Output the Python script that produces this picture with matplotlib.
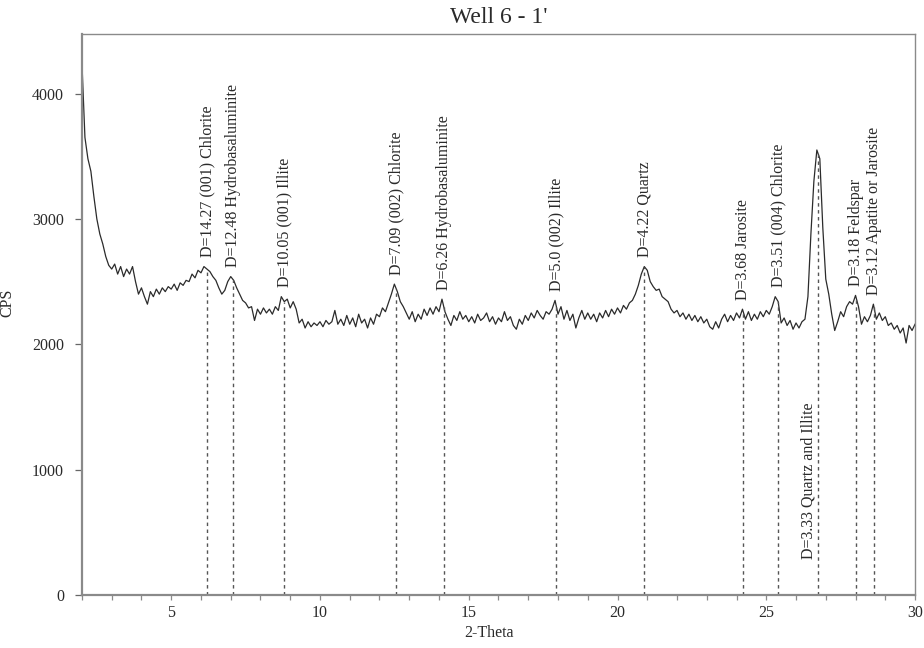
import numpy as np
import matplotlib
matplotlib.use("Agg")
import matplotlib.pyplot as plt
from matplotlib.ticker import MultipleLocator

plt.rcParams['font.family'] = ['Liberation Serif', 'DejaVu Serif']

# ---- data ----
two_theta = np.round(np.arange(2.0, 30.001, 0.1), 1)
cps = [
    4240, 3650, 3480, 3380, 3180, 3000, 2880, 2800, 2700, 2630,   # 2.x
    2600, 2640, 2560, 2620, 2540, 2600, 2560, 2620, 2500, 2400,   # 3.x
    2450, 2380, 2320, 2420, 2380, 2440, 2400, 2450, 2420, 2460,   # 4.x
    2440, 2480, 2430, 2490, 2470, 2510, 2500, 2560, 2530, 2590,   # 5.x
    2570, 2620, 2600, 2580, 2540, 2510, 2450, 2400, 2430, 2500,   # 6.x
    2540, 2510, 2450, 2400, 2350, 2330, 2290, 2300, 2190, 2280,   # 7.x
    2240, 2290, 2250, 2280, 2240, 2300, 2270, 2380, 2340, 2360,   # 8.x
    2290, 2340, 2280, 2170, 2200, 2130, 2180, 2140, 2170, 2150,   # 9.x
    2180, 2140, 2190, 2160, 2180, 2270, 2160, 2200, 2150, 2230,   # 10.x
    2160, 2210, 2140, 2240, 2170, 2200, 2130, 2210, 2160, 2240,   # 11.x
    2220, 2290, 2260, 2330, 2400, 2480, 2420, 2340, 2300, 2250,   # 12.x
    2200, 2260, 2180, 2240, 2200, 2280, 2230, 2290, 2240, 2300,   # 13.x
    2260, 2360, 2260, 2200, 2150, 2230, 2190, 2260, 2200, 2230,   # 14.x
    2180, 2220, 2170, 2240, 2190, 2210, 2250, 2180, 2220, 2160,   # 15.x
    2210, 2180, 2260, 2190, 2220, 2150, 2120, 2200, 2160, 2230,   # 16.x
    2190, 2250, 2210, 2270, 2230, 2200, 2260, 2240, 2280, 2350,   # 17.x
    2240, 2300, 2200, 2270, 2190, 2240, 2130, 2210, 2270, 2200,   # 18.x
    2250, 2200, 2240, 2180, 2250, 2210, 2270, 2220, 2280, 2240,   # 19.x
    2290, 2250, 2310, 2280, 2330, 2350, 2400, 2470, 2560, 2620,   # 20.x
    2590, 2500, 2460, 2430, 2440, 2380, 2360, 2340, 2280, 2250,   # 21.x
    2270, 2220, 2250, 2200, 2240, 2190, 2230, 2180, 2220, 2170,   # 22.x
    2200, 2140, 2120, 2180, 2130, 2200, 2240, 2180, 2230, 2190,   # 23.x
    2250, 2210, 2280, 2200, 2260, 2190, 2240, 2200, 2260, 2220,   # 24.x
    2270, 2240, 2300, 2380, 2340, 2170, 2210, 2150, 2190, 2120,   # 25.x
    2170, 2130, 2180, 2200, 2380, 2880, 3300, 3550, 3480, 2930,   # 26.x
    2520, 2400, 2240, 2110, 2180, 2260, 2220, 2300, 2340, 2320,   # 27.x
    2390, 2300, 2160, 2220, 2180, 2230, 2320, 2200, 2250, 2190,   # 28.x
    2220, 2150, 2170, 2120, 2150, 2090, 2130, 2010, 2150, 2110,   # 29.x
    2160,                                                         # 30.0
]

peak_pos = [6.2, 7.08, 8.8, 12.57, 14.16, 17.93, 20.9, 24.22, 25.4, 26.75, 28.03, 28.62]
peak_labels = [
    "D=14.27 (001) Chlorite",
    "D=12.48 Hydrobasaluminite",
    "D=10.05 (001) Illite",
    "D=7.09 (002) Chlorite",
    "D=6.26 Hydrobasaluminite",
    "D=5.0 (002) Illite",
    "D=4.22 Quartz",
    "D=3.68 Jarosite",
    "D=3.51 (004) Chlorite",
    "D=3.33 Quartz and Illite",
    "D=3.18 Feldspar",
    "D=3.12 Apatite or Jarosite",
]

x_ticks = [5, 10, 15, 20, 25, 30]
y_ticks = [0, 1000, 2000, 3000, 4000]

# ---- figure ----
fig = plt.figure(figsize=(9.24, 6.48), dpi=100)
ax = fig.add_axes([0.0887, 0.0818, 0.9016, 0.8657])

x = np.asarray(two_theta)
y = np.asarray(cps, dtype=float)

ax.plot(x, y, color='#2b2b2b', lw=0.9)

txt_color = '#2a2a2a'
fs = 11.5
for i, (p, lab) in enumerate(zip(peak_pos, peak_labels)):
    top = np.interp(p, x, y)
    ax.plot([p, p], [0, top], color='#555555', lw=1.0, ls=(0, (2.5, 2.5)))
    if lab.startswith("D=3.33"):
        ax.text(p - 0.34, 290, lab, rotation=90, ha='center', va='bottom',
                fontsize=fs, color=txt_color)
    else:
        local = np.interp(np.linspace(p - 0.15, p + 0.15, 31), x, y).max()
        ax.text(p, local + 75, lab, rotation=90, ha='center', va='bottom',
                fontsize=fs, color=txt_color)

ax.set_xlim(2, 30)
ax.set_ylim(0, 4475)
ax.set_xticks(x_ticks)
ax.set_yticks(y_ticks)
ax.xaxis.set_minor_locator(MultipleLocator(1))

for s in ['left', 'bottom']:
    ax.spines[s].set_color('#8a8a8a')
    ax.spines[s].set_linewidth(1.6)
for s in ['top', 'right']:
    ax.spines[s].set_color('#8a8a8a')
    ax.spines[s].set_linewidth(1.0)

ax.tick_params(axis='x', which='both', direction='out', length=3.5, width=0.9,
               color='#8a8a8a', labelsize=fs, labelcolor=txt_color, pad=4)
ax.tick_params(axis='y', which='major', direction='out', length=5, width=0.9,
               color='#666666', labelsize=fs, labelcolor=txt_color, pad=8)

ax.set_xlabel("2-Theta", fontsize=fs, color=txt_color)
ax.xaxis.set_label_coords(0.488, -0.053)
ax.set_ylabel("CPS", fontsize=fs, color=txt_color)
ax.yaxis.set_label_coords(-0.08, 0.52)
ax.set_title("Well 6 - 1'", fontsize=17, color=txt_color, pad=8)

fig.savefig("out.png", dpi=100)
